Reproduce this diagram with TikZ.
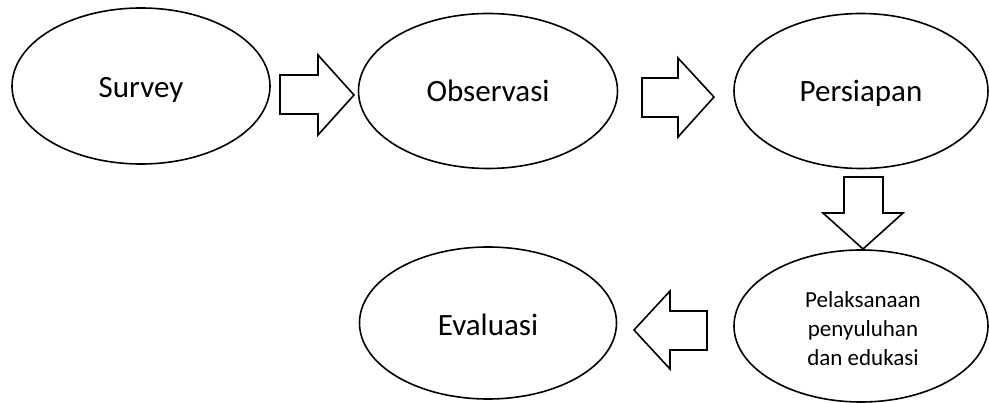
\documentclass[tikz,border=0pt]{standalone}
\usepackage{fontspec}
\setmainfont{Carlito}
\usetikzlibrary{shapes.geometric}
\begin{document}
\begin{tikzpicture}[x=1pt,y=-1pt,
  oval/.style={draw=black,line width=1.6pt,ellipse,inner sep=0pt},
  bigtext/.style={anchor=base,inner sep=0pt,font=\fontsize{31}{36}\selectfont},
  smalltext/.style={anchor=base,inner sep=0pt,font=\fontsize{23}{29}\selectfont,align=center},
  blockarrow/.style={draw=black,line width=1.6pt,line join=miter,fill=white}]
\useasboundingbox (0,0) rectangle (989,403);
\node[oval,minimum width=258pt,minimum height=156pt] (survey) at (141,86) {};
\node[oval,minimum width=259pt,minimum height=155pt] (obs) at (488,91) {};
\node[oval,minimum width=254pt,minimum height=155pt] (pers) at (861,91) {};
\node[oval,minimum width=254pt,minimum height=152pt] (pel) at (861,326) {};
\node[oval,minimum width=257pt,minimum height=152pt] (eval) at (488,323) {};
\node[bigtext] (surveyt) at (141,98) {Survey};
\node[bigtext] (obst) at (488,102) {Observasi};
\node[bigtext] (perst) at (861,102) {Persiapan};
\node[bigtext] (evalt) at (488,336) {Evaluasi};
\node[smalltext] (pel1) at (863,308) {Pelaksanaan};
\node[smalltext] (pel2) at (863,337) {penyuluhan};
\node[smalltext] (pel3) at (863,366) {dan edukasi};
\draw[blockarrow] (280,75) -- (318,75) -- (318,55) -- (354,95) -- (318,135) -- (318,114) -- (280,114) -- cycle;
\draw[blockarrow] (642,78) -- (678,78) -- (678,58) -- (714,97) -- (678,137) -- (678,117) -- (642,117) -- cycle;
\draw[blockarrow] (844,177) -- (883,177) -- (883,213) -- (903,213) -- (863,249) -- (823,213) -- (844,213) -- cycle;
\draw[blockarrow] (707,311) -- (707,350) -- (670,350) -- (670,369) -- (634,330) -- (670,291) -- (670,311) -- cycle;
\end{tikzpicture}
\end{document}
